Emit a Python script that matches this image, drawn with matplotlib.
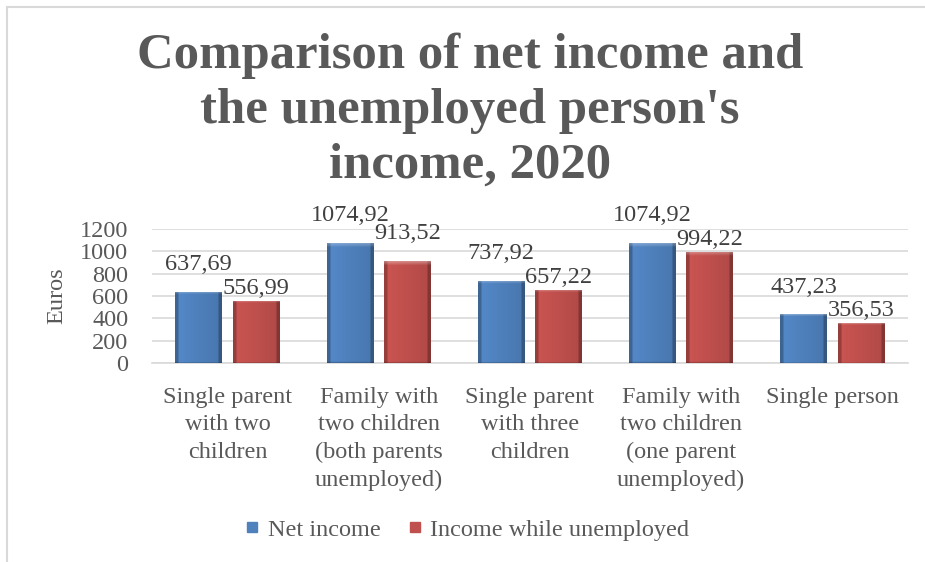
#!/usr/bin/env python3

import numpy as np
import matplotlib.pyplot as plt
from matplotlib.colors import to_rgb
from matplotlib.lines import Line2D

categories = ['Single parent\nwith two\nchildren',
              'Family with\ntwo children\n(both parents\nunemployed)',
              'Single parent\nwith three\nchildren',
              'Family with\ntwo children\n(one parent\nunemployed)',
              'Single person']
net_income = [637.69, 1074.92, 737.92, 1074.92, 437.23]
unemployed_income = [556.99, 913.52, 657.22, 994.22, 356.53]
series_names = ['Net income', 'Income while unemployed']
y_ticks = [0, 200, 400, 600, 800, 1000, 1200]

colors = ['#4F81BD', '#C0504D']
text_color = '#595959'
font = 'Liberation Serif'
fs = 17.5


def bevel_image(color, nx=40, ny=200):
    # fake the office bevel: darker sides, a light rim at the top
    base = np.array(to_rgb(color))
    xs = np.linspace(0, 1, nx)
    f = 1.06 - 0.14 * xs
    f[xs < 0.06] = 0.78
    f[xs > 0.94] = 0.68
    img = np.ones((ny, nx, 3)) * base * f[None, :, None]
    top = 8
    for r in range(top):
        w = 0.35 * (1 - r / top)
        img[r] = img[r] * (1 - w) + w
    img[-2:] *= 0.8
    return np.clip(img, 0, 1)


def fmt(v):
    return f'{v:.2f}'.replace('.', ',')


fig = plt.figure(figsize=(9.25, 5.62), dpi=100)
ax = fig.add_axes([0.1643, 0.354, 0.8173, 0.2384])

x = np.arange(len(categories))
width = 0.31
offset = 0.19

for vals, col, sgn in [(net_income, colors[0], -1), (unemployed_income, colors[1], 1)]:
    bars = ax.bar(x + sgn * offset, vals, width, color=col, zorder=3,
                  edgecolor='none')
    img = bevel_image(col)
    for b in bars:
        im = ax.imshow(img, extent=[b.get_x(), b.get_x() + b.get_width(), 0, b.get_height()],
                       aspect='auto', zorder=4, interpolation='bilinear')
        im.set_clip_path(b)

# data labels, red ones pushed down when they would hit the blue label
for i in range(len(categories)):
    ax.annotate(fmt(net_income[i]), (x[i] - offset, net_income[i]),
                xytext=(0, 12), textcoords='offset points', ha='center', va='bottom',
                fontsize=fs, family=font, color='#404040', annotation_clip=False)
    gap = 12 if net_income[i] - unemployed_income[i] > 120 else 1.5
    ax.annotate(fmt(unemployed_income[i]), (x[i] + offset, unemployed_income[i]),
                xytext=(0, gap), textcoords='offset points', ha='center', va='bottom',
                fontsize=fs, family=font, color='#404040', annotation_clip=False)

ax.set_xlim(-0.5, len(categories) - 0.5)
ax.set_ylim(0, 1200)
ax.set_yticks(y_ticks)
ax.set_xticks(x)
ax.set_xticklabels(categories, linespacing=1.42)
ax.grid(axis='y', color='#D9D9D9', linewidth=1.2, zorder=0)
for s in ['top', 'right', 'left']:
    ax.spines[s].set_visible(False)
ax.spines['bottom'].set_color('#D9D9D9')
ax.spines['bottom'].set_linewidth(1.2)
ax.tick_params(axis='both', length=0, labelsize=fs, labelcolor=text_color)
ax.tick_params(axis='y', pad=17)
ax.tick_params(axis='x', pad=17)
for lab in ax.get_xticklabels() + ax.get_yticklabels():
    lab.set_family(font)
ax.set_ylabel('Euros', fontsize=fs, family=font, color=text_color, labelpad=9)

fig.text(0.508, 0.803, 'Comparison of net income and\nthe unemployed person\'s\nincome, 2020',
         ha='center', va='center', fontsize=36.5, fontweight='bold', family=font,
         color=text_color, linespacing=1.25)

handles = [Line2D([], [], marker='s', linestyle='none', markersize=6.5,
                  markerfacecolor=c, markeredgecolor=c) for c in colors]
leg = fig.legend(handles, series_names, loc='center', bbox_to_anchor=(0.505, 0.057),
                 ncol=2, frameon=False, handlelength=0.6, handletextpad=0.35,
                 columnspacing=1.1, prop={'family': font, 'size': fs})
for t in leg.get_texts():
    t.set_color(text_color)
    t.set_family(font)

# chart frame (only top and left show in the crop)
fig.add_artist(Line2D([0.0076, 0.0076], [0, 0.9875], transform=fig.transFigure,
                      color='#D9D9D9', linewidth=1.5))
fig.add_artist(Line2D([0.0076, 1], [0.9875, 0.9875], transform=fig.transFigure,
                      color='#D9D9D9', linewidth=1.5))

fig.savefig('out.png', dpi=100)
